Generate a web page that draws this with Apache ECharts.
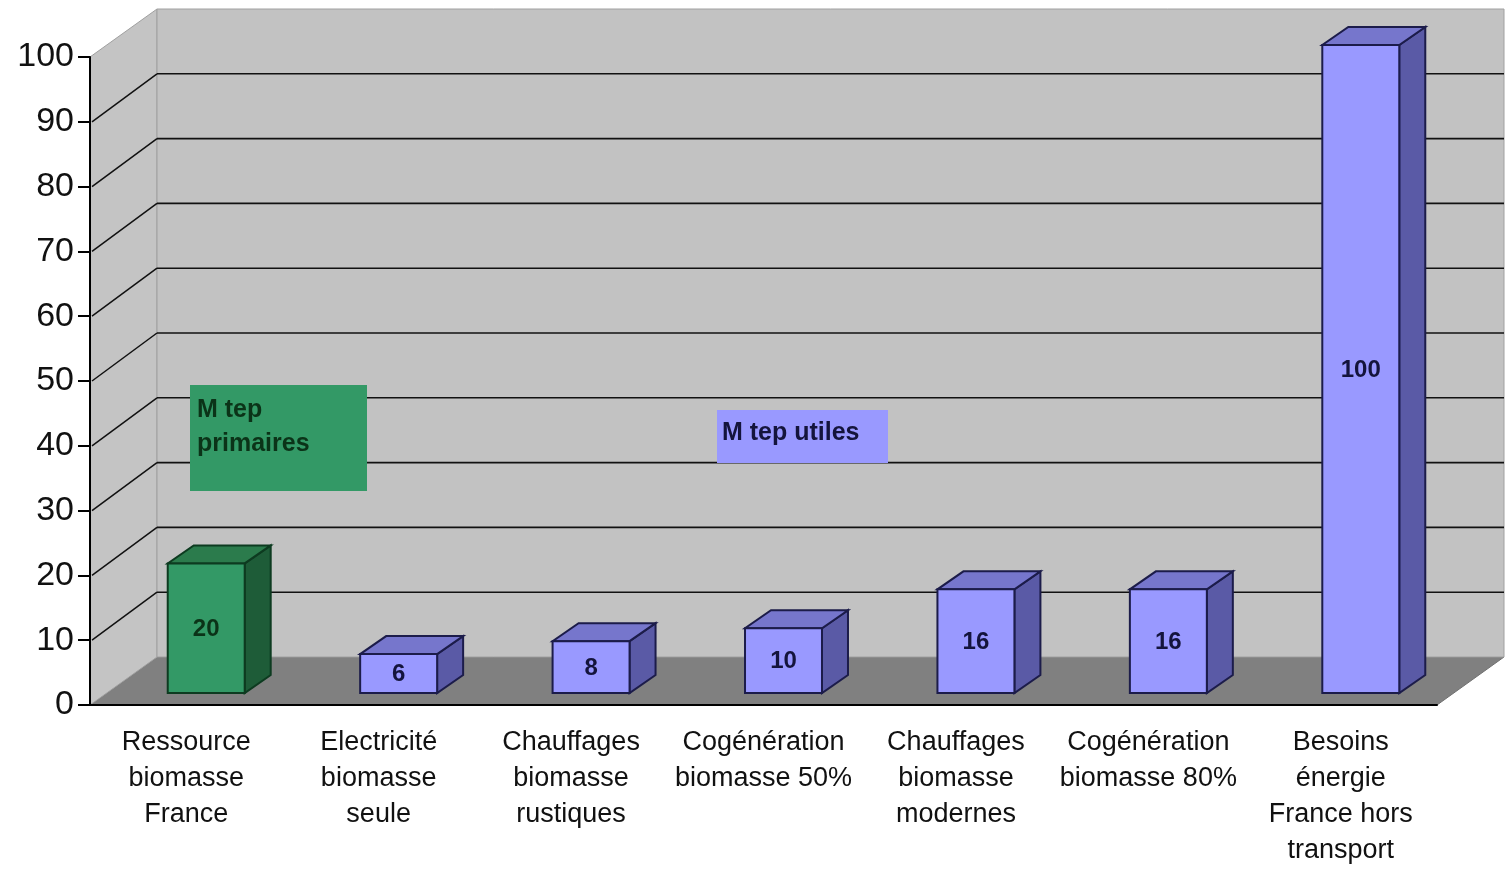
<!DOCTYPE html>
<html>
<head>
<meta charset="utf-8">
<script src="https://cdn.jsdelivr.net/npm/echarts@6/dist/echarts.min.js"></script>
<style>
  html, body { margin: 0; padding: 0; background: #fff; }
  #main { width: 1505px; height: 874px; }
</style>
</head>
<body>
<div id="main"></div>
<script>
// data
var categories = [
    'Ressource\nbiomasse\nFrance',
    'Electricité\nbiomasse\nseule',
    'Chauffages\nbiomasse\nrustiques',
    'Cogénération\nbiomasse 50%',
    'Chauffages\nbiomasse\nmodernes',
    'Cogénération\nbiomasse 80%',
    'Besoins\nénergie\nFrance hors\ntransport'
];
var values = [20, 6, 8, 10, 16, 16, 100];
var kinds = ['primaire', 'utile', 'utile', 'utile', 'utile', 'utile', 'utile'];
var yTicks = [0, 10, 20, 30, 40, 50, 60, 70, 80, 90, 100];

// 3d look
var DX = 67, DY = -48;          // depth of the walls
var BX = 20, BY = -12;          // where the bar front face sits
var BDX = 26, BDY = -18;        // depth of a bar
var colors = {
    primaire: { front: '#339966', top: '#2b7b4c', side: '#1e5c38', line: '#0d3b20', text: '#0b3318' },
    utile: { front: '#9999ff', top: '#7676cc', side: '#5a5aa6', line: '#1c1c4a', text: '#14143c' }
};
var FONT = 'Liberation Sans';

function renderWalls(params, api) {
    var cs = params.coordSys;
    var x0 = cs.x, x1 = cs.x + cs.width;
    var yb = api.coord([0, 0])[1];
    var yt = api.coord([0, 100])[1];
    var children = [];
    // floor
    children.push({ type: 'polygon', shape: { points: [[x0, yb], [x1, yb], [x1 + DX, yb + DY], [x0 + DX, yb + DY]] },
        style: { fill: '#808080', stroke: '#707070', lineWidth: 1 } });
    // side wall
    children.push({ type: 'polygon', shape: { points: [[x0, yt], [x0 + DX, yt + DY], [x0 + DX, yb + DY], [x0, yb]] },
        style: { fill: '#c4c4c4', stroke: '#a0a0a0', lineWidth: 1 } });
    // back wall
    children.push({ type: 'rect', shape: { x: x0 + DX, y: yt + DY, width: x1 - x0, height: yb - yt },
        style: { fill: '#c2c2c2', stroke: '#a0a0a0', lineWidth: 1 } });
    for (var i = 0; i < yTicks.length; i++) {
        var v = yTicks[i];
        if (v === 0 || v === 100) continue;
        var y = api.coord([0, v])[1];
        children.push({ type: 'line', shape: { x1: x0 + 2, y1: y, x2: x0 + DX, y2: y + DY },
            style: { stroke: '#111', lineWidth: 1.5 } });
        children.push({ type: 'line', shape: { x1: x0 + DX, y1: y + DY, x2: x1 + DX, y2: y + DY },
            style: { stroke: '#111', lineWidth: 1.6 } });
    }
    return { type: 'group', children: children };
}

function renderBar(params, api) {
    var idx = api.value(0);
    var val = api.value(1);
    var c = colors[kinds[idx]];
    var p0 = api.coord([idx, 0]);
    var p1 = api.coord([idx, val]);
    var w = api.size([1, 0])[0] * 0.4;
    var fx = p0[0] + BX - w / 2;
    var bot = p0[1] + BY;
    var top = p1[1] + BY;
    return {
        type: 'group',
        children: [
            { type: 'polygon', shape: { points: [[fx + w, top], [fx + w + BDX, top + BDY], [fx + w + BDX, bot + BDY], [fx + w, bot]] },
              style: { fill: c.side, stroke: c.line, lineWidth: 2 } },
            { type: 'polygon', shape: { points: [[fx, top], [fx + w, top], [fx + w + BDX, top + BDY], [fx + BDX, top + BDY]] },
              style: { fill: c.top, stroke: c.line, lineWidth: 2 } },
            { type: 'rect', shape: { x: fx, y: top, width: w, height: bot - top },
              style: { fill: c.front, stroke: c.line, lineWidth: 2 } },
            { type: 'text', x: fx + w / 2, y: (top + bot) / 2 + 1,
              style: { text: String(val), fill: c.text, font: 'bold 24px "' + FONT + '"', align: 'center', verticalAlign: 'middle' } }
        ]
    };
}

var barData = values.map(function (v, i) { return [i, v]; });

var myChart = echarts.init(document.getElementById('main'));
var option = {
    animation: false,
    backgroundColor: '#fff',
    grid: { left: 90, right: 68, top: 57, bottom: 169 },
    xAxis: {
        type: 'category',
        data: categories,
        z: 5,
        axisLine: { lineStyle: { color: '#000', width: 2 } },
        axisTick: { length: 12, lineStyle: { color: '#000', width: 2 } },
        axisLabel: { interval: 0, margin: 20, fontSize: 27, lineHeight: 36, color: '#111', fontFamily: FONT }
    },
    yAxis: {
        type: 'value',
        min: 0, max: 100, interval: 10,
        z: 5,
        axisLine: { show: true, lineStyle: { color: '#000', width: 2 } },
        axisTick: { show: true, length: 12, lineStyle: { color: '#000', width: 2 } },
        axisLabel: { margin: 16, fontSize: 34, color: '#111', fontFamily: FONT },
        splitLine: { show: false }
    },
    graphic: [
        { type: 'rect', left: 190, top: 385, z: 10, shape: { width: 177, height: 106 }, style: { fill: '#339966' } },
        { type: 'text', left: 197, top: 393, z: 11, style: { text: 'M tep\nprimaires', fill: '#0b3318', font: 'bold 25px "' + FONT + '"', lineHeight: 34 } },
        { type: 'rect', left: 717, top: 410, z: 10, shape: { width: 171, height: 53 }, style: { fill: '#9999ff' } },
        { type: 'text', left: 722, top: 421, z: 11, style: { text: 'M tep utiles', fill: '#14143c', font: 'bold 25px "' + FONT + '"' } }
    ],
    series: [
        { type: 'custom', name: 'walls', z: 1, silent: true, renderItem: renderWalls, data: [[0, 0]], encode: { x: 0, y: 1 } },
        { type: 'custom', name: 'bars', z: 3, renderItem: renderBar, data: barData, encode: { x: 0, y: 1 } }
    ]
};
myChart.setOption(option);
</script>
</body>
</html>
